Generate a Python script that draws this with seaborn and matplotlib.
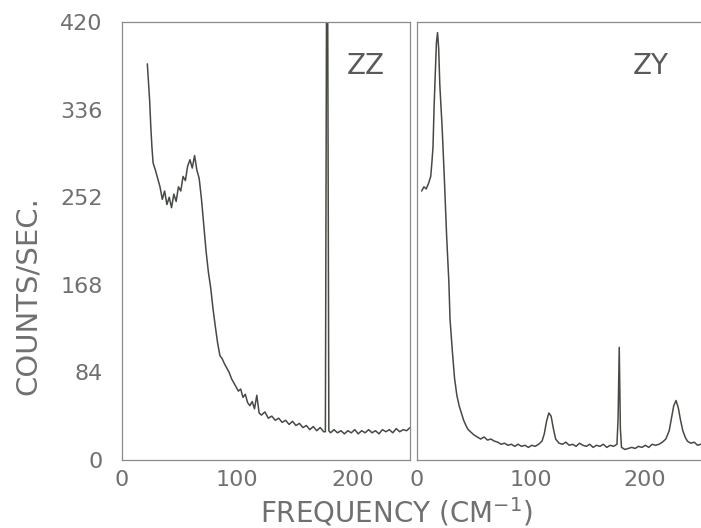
import numpy as np
import pandas as pd
import matplotlib
matplotlib.use("Agg")
import matplotlib.pyplot as plt
import seaborn as sns

# ---- data ----
zz_x = [22, 24, 25, 26, 27, 29, 31, 33, 35, 37, 39, 41, 43, 45, 47, 49, 51, 53, 55, 57, 59, 61, 63, 65,
        67, 69, 71, 73, 75, 77, 79, 81, 83, 85, 87, 89, 91, 93, 95, 97, 99, 101, 103, 105, 107, 109,
        111, 113, 115, 117, 119, 121, 124, 127, 130, 133, 136, 139, 142, 145, 148, 151, 154, 157, 160,
        163, 166, 169, 172, 175, 176.5, 177.5, 178.5, 179.5, 181, 184, 187, 190, 193, 196, 199, 202,
        205, 208, 211, 214, 217, 220, 223, 226, 229, 232, 235, 238, 241, 244, 247, 250]
zz_y = [380, 345, 320, 300, 285, 278, 270, 262, 250, 258, 245, 252, 242, 255, 248, 262, 258, 272, 268,
        282, 288, 280, 292, 278, 270, 250, 225, 200, 180, 165, 145, 128, 112, 100, 97, 92, 88, 84, 78,
        74, 70, 66, 68, 60, 63, 55, 52, 56, 49, 62, 45, 43, 46, 40, 42, 38, 40, 36, 38, 34, 37, 33, 35,
        31, 33, 29, 32, 28, 31, 27, 27, 440, 440, 28, 26, 29, 26, 28, 25, 28, 26, 29, 25, 28, 26, 29,
        26, 28, 25, 29, 27, 29, 26, 30, 27, 29, 28, 31]

zy_x = [4, 6, 8, 10, 12, 13, 14, 15, 16, 17, 18, 19, 20, 22, 24, 26, 28, 29, 31, 33, 35, 37, 39, 41,
        43, 45, 47, 50, 53, 56, 59, 62, 65, 68, 71, 74, 77, 80, 83, 86, 89, 92, 95, 98, 101, 104, 107,
        110, 112, 114, 116, 118, 120, 122, 125, 128, 131, 134, 137, 140, 143, 146, 149, 152, 155, 158,
        161, 164, 167, 170, 173, 176, 177, 178, 179, 180, 183, 186, 189, 192, 195, 198, 201, 204, 207,
        210, 213, 216, 219, 222, 224, 226, 228, 230, 232, 234, 236, 238, 241, 244, 247, 250]
zy_y = [258, 262, 260, 265, 272, 285, 300, 340, 370, 400, 410, 395, 360, 320, 270, 215, 170, 135, 105,
        78, 62, 52, 45, 38, 33, 29, 27, 24, 22, 20, 22, 19, 20, 18, 17, 15, 16, 14, 15, 13, 15, 13, 14,
        12, 14, 13, 15, 18, 25, 37, 45, 42, 30, 20, 16, 15, 17, 14, 15, 13, 16, 14, 13, 15, 12, 14, 13,
        15, 12, 14, 13, 15, 40, 108, 30, 12, 10, 11, 12, 11, 13, 12, 14, 12, 15, 14, 15, 17, 20, 28, 40,
        52, 57, 50, 38, 28, 22, 18, 16, 17, 14, 15]

y_ticks = [0, 84, 168, 252, 336, 420]
x_major = [0, 100, 200]
x_minor = [50, 150, 250]
panel_labels = ["ZZ", "ZY"]

# ---- styling ----
sns.set_style("white")
plt.rcParams["font.family"] = ["DejaVu Sans"]
grey = "#707070"
spine_c = "#8a8a8a"
line_c = "#454a42"

fig = plt.figure(figsize=(7.01, 5.28), dpi=100)
ax1 = fig.add_axes([0.174, 0.129, 0.411, 0.829])
ax2 = fig.add_axes([0.595, 0.129, 0.405, 0.829])

df1 = pd.DataFrame({"x": zz_x, "y": zz_y})
df2 = pd.DataFrame({"x": zy_x, "y": zy_y})
sns.lineplot(data=df1, x="x", y="y", ax=ax1, color=line_c, lw=1.1, estimator=None, sort=False)
sns.lineplot(data=df2, x="x", y="y", ax=ax2, color=line_c, lw=1.1, estimator=None, sort=False)

label_pos = [0.847, 0.824]
for ax, lab, lx in [(ax1, panel_labels[0], label_pos[0]), (ax2, panel_labels[1], label_pos[1])]:
    ax.set_xlim(0, 250)
    ax.set_ylim(0, 420)
    ax.set_xlabel("")
    ax.set_ylabel("")
    ax.set_xticks(x_major)
    ax.set_xticks(x_minor, minor=True)
    ax.set_yticks(y_ticks)
    ax.tick_params(axis="both", which="both", direction="in", length=4, width=0.8, color=spine_c,
                   labelcolor=grey, labelsize=16)
    ax.tick_params(axis="x", pad=7)
    for s in ax.spines.values():
        s.set_color(spine_c)
        s.set_linewidth(0.9)
    ax.text(lx, 0.90, lab, transform=ax.transAxes, ha="center", va="center",
            fontsize=20, color="#5a5a5a")

ax1.tick_params(axis="y", pad=14)
ax2.tick_params(axis="y", labelleft=False)
ax2.spines["right"].set_visible(False)

fig.text(0.04, 0.44, "COUNTS/SEC.", rotation=90, ha="center", va="center",
         fontsize=21, color=grey)
fig.text(0.565, 0.03, "FREQUENCY (CM$^{-1}$)", ha="center", va="center",
         fontsize=20, color=grey)

fig.savefig("out.png", dpi=100, facecolor="white")
